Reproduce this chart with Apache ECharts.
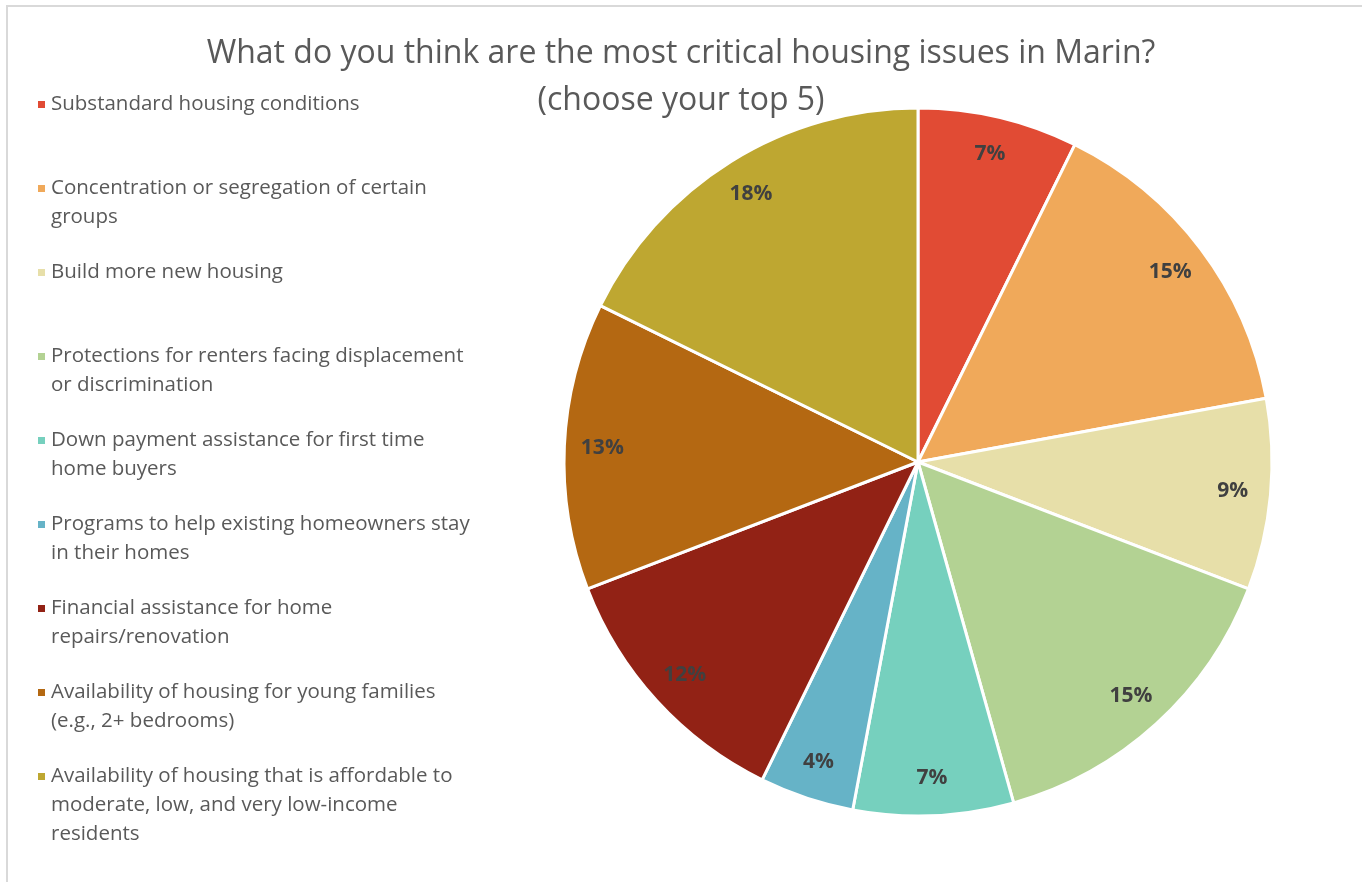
<!DOCTYPE html>
<html>
<head>
<meta charset="utf-8">
<script src="https://cdn.jsdelivr.net/npm/echarts@6/dist/echarts.min.js"></script>
<style>
html,body{margin:0;padding:0;background:#fff;}
#chart{width:1362px;height:882px;}
</style>
</head>
<body>
<div id="chart"></div>
<script>
// ---- data ----
const categories = [
  "Substandard housing conditions",
  "Concentration or segregation of certain groups",
  "Build more new housing",
  "Protections for renters facing displacement or discrimination",
  "Down payment assistance for first time home buyers",
  "Programs to help existing homeowners stay in their homes",
  "Financial assistance for home repairs/renovation",
  "Availability of housing for young families (e.g., 2+ bedrooms)",
  "Availability of housing that is affordable to moderate, low, and very low-income residents"
];
const legendLines = [
  ["Substandard housing conditions"],
  ["Concentration or segregation of certain", "groups"],
  ["Build more new housing"],
  ["Protections for renters facing displacement", "or discrimination"],
  ["Down payment assistance for first time", "home buyers"],
  ["Programs to help existing homeowners stay", "in their homes"],
  ["Financial assistance for home", "repairs/renovation"],
  ["Availability of housing for young families", "(e.g., 2+ bedrooms)"],
  ["Availability of housing that is affordable to", "moderate, low, and very low-income", "residents"]
];
const shares = [7.3, 14.8, 8.7, 14.8, 7.3, 4.3, 11.9, 13.1, 17.7];
const colors = ["#E14B34", "#F0A95A", "#E7DFA9", "#B3D293", "#76D0BE", "#66B3C7", "#922215", "#B46812", "#BEA731"];

// ---- layout ----
const CX = 918, CY = 462, R = 354, LABEL_R = 316;
const LH = 29;
const FONT = 'Open Sans';
const total = shares.reduce((a, b) => a + b, 0);
const midAngles = [];
{
  let acc = 0;
  shares.forEach(v => { midAngles.push((acc + v / 2) / total * 2 * Math.PI); acc += v; });
}

const legends = categories.map((name, i) => {
  const n = legendLines[i].length;
  // prepend empty lines so the first real line sits level with the icon
  const txt = new Array(n - 1).fill('').concat(legendLines[i]).join('\n');
  return {
    orient: 'vertical',
    left: 36,
    top: 90 + 84 * i - (n - 1) * LH,
    padding: 0,
    itemWidth: 9,
    itemHeight: 9,
    itemGap: 0,
    icon: 'rect',
    selectedMode: false,
    data: [name],
    formatter: () => txt,
    textStyle: {
      fontFamily: FONT,
      fontSize: 20.5,
      color: '#595959',
      lineHeight: LH
    }
  };
});

const chart = echarts.init(document.getElementById('chart'), null, {renderer: 'canvas'});
chart.setOption({
  backgroundColor: '#fff',
  animation: false,
  title: {
    text: 'What do you think are the most critical housing issues in Marin?\n(choose your top 5)',
    left: 'center',
    top: 25,
    textStyle: {
      fontFamily: FONT,
      fontSize: 32,
      fontWeight: 'normal',
      color: '#595959',
      lineHeight: 47
    }
  },
  legend: legends,
  graphic: [{
    type: 'rect',
    shape: {x: 7, y: 6, width: 1360, height: 890},
    style: {fill: 'none', stroke: '#D9D9D9', lineWidth: 2},
    silent: true,
    z: -1
  }],
  series: [{
    type: 'pie',
    center: [CX, CY],
    radius: [0, R],
    startAngle: 90,
    clockwise: true,
    avoidLabelOverlap: false,
    color: colors,
    itemStyle: {borderColor: '#fff', borderWidth: 3},
    label: {
      show: true,
      position: 'inside',
      fontFamily: FONT,
      fontSize: 21,
      fontWeight: 'bold',
      color: '#404040',
      formatter: p => Math.round(p.value / total * 100) + '%'
    },
    labelLine: {show: false},
    labelLayout: p => {
      const a = midAngles[p.dataIndex];
      return {x: CX + LABEL_R * Math.sin(a), y: CY - LABEL_R * Math.cos(a)};
    },
    emphasis: {disabled: true},
    data: categories.map((c, i) => ({name: c, value: shares[i]}))
  }]
});
</script>
</body>
</html>
